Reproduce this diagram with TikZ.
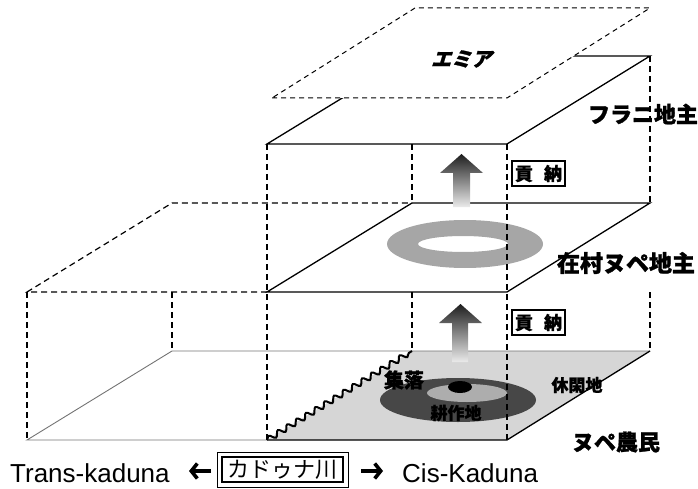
\documentclass[tikz,border=0pt]{standalone}
\usepackage{fontspec}
\setmainfont{Liberation Sans}
\newfontfamily\jp{Noto Sans CJK JP}[BoldFeatures={FakeBold=1.2}]
\newfontfamily\jpsl{Noto Sans CJK JP}[FakeSlant=0.3,BoldFeatures={FakeBold=1.2}]
\usetikzlibrary{decorations.pathmorphing,arrows.meta}
\begin{document}
\begin{tikzpicture}[x=1pt,y=-1pt,
  sline/.style={line width=1.3pt,line join=miter},
  dline/.style={line width=1.2pt,dash pattern=on 6pt off 4pt},
  fdline/.style={line width=1pt,dash pattern=on 5pt off 4pt},
  tline/.style={line width=0.9pt,black!55},
  wave/.style={decorate,decoration={snake,segment length=11pt,amplitude=2.8pt},line width=2pt},
  jlbl/.style={inner sep=0pt,font=\jp\bfseries\fontsize{22}{22}\selectfont},
  tribute/.style={draw,line width=1.6pt,inner sep=0pt,minimum width=53pt,minimum height=25pt,
    font=\jp\bfseries\fontsize{18}{18}\selectfont},
  uparrow/.style={top color=black!88,bottom color=black!8},
  glyph/.style={line width=3.6pt,-{Straight Barb[length=6pt,width=15pt]}},
  latin/.style={inner sep=0pt,font=\fontsize{26}{26}\selectfont}
]
\useasboundingbox (0,0) rectangle (698,489);

% ---- coordinates
\coordinate (A1) at (267,144); \coordinate (B1) at (507,144);
\coordinate (C1) at (650,56);  \coordinate (D1) at (411,56);
\coordinate (E1) at (272,98);  \coordinate (E2) at (507,98);
\coordinate (E3) at (650,8);   \coordinate (E4) at (415,8);
\coordinate (A2) at (267,292); \coordinate (B2) at (507,292);
\coordinate (C2) at (650,203); \coordinate (D2) at (412,203);
\coordinate (L2a) at (27,292); \coordinate (L2b) at (172,203);
\coordinate (A3) at (267,440); \coordinate (B3) at (507,440);
\coordinate (C3) at (650,351); \coordinate (D3) at (412,351);
\coordinate (L3a) at (27,440); \coordinate (L3b) at (172,351);

% ---- level 1 (Fulani) and Emir plane
\draw[sline] (A1)--(B1)--(C1)--(D1)--cycle;
\filldraw[fill=white,fdline] (E1)--(E2)--(E3)--(E4)--cycle;

% ---- level 2
\draw[dline] (A2)--(L2a)--(L2b)--(D2);
\draw[sline] (A2)--(B2)--(C2)--(D2)--cycle;
\fill[black!35,even odd rule] (465,244) ellipse [x radius=78pt,y radius=24pt]
  (463,244) ellipse [x radius=45pt,y radius=8pt];

% ---- level 3
\fill[black!16] (A3)--(D3)--(C3)--(B3)--cycle;
\fill[black!72] (458,400) ellipse [x radius=78pt,y radius=22pt];
\fill[black!32] (467,393) ellipse [x radius=40pt,y radius=9pt];
\fill[black] (460,387) ellipse [x radius=12pt,y radius=6pt];
\draw[tline] (A3)--(L3a)--(L3b)--(D3)--(C3);
\draw[sline] (C3)--(B3)--(A3);
\draw[wave] (A3)--(D3);

% ---- vertical dashed lines
\coordinate (v412t) at (412,144); \coordinate (v412m) at (412,203);
\coordinate (v650t) at (650,203);
\coordinate (v172b) at (172,292); \coordinate (v412b) at (412,292);
\coordinate (v650b) at (650,292);
\draw[dline] (A1)--(A3);
\draw[dline] (B1)--(B3);
\draw[dline] (v412t)--(v412m);
\draw[dline] (C1)--(v650t);
\draw[dline] (L2a)--(L3a);
\draw[dline] (v172b)--(L3b);
\draw[dline] (v412b)--(D3);
\draw[dline] (v650b)--(C3);

% ---- tribute arrows
\shade[uparrow] (453,207)--(453,173)--(440,173)--(461.5,154)--(483,173)--(470,173)--(470,207)--cycle;
\shade[uparrow] (452,362)--(452,323)--(439,323)--(460.5,304)--(482,323)--(468,323)--(468,362)--cycle;

% ---- labels
\node[jlbl,font=\jpsl\bfseries\fontsize{20}{20}\selectfont] (emir) at (461,59) {エミア};
\node[jlbl] (fulani) at (643,114) {フラニ地主};
\node[jlbl,font=\jp\bfseries\fontsize{23}{23}\selectfont] (village) at (626,263) {在村ヌペ地主};
\node[jlbl] (peasant) at (616,442) {ヌペ農民};
\node[tribute] (trib1) at (538.5,173.5) {貢\hspace{11pt}納};
\node[tribute] (trib2) at (538.5,322.5) {貢\hspace{11pt}納};
\node[jlbl,font=\jp\bfseries\fontsize{20}{20}\selectfont] (settle) at (404,380) {集落};
\node[jlbl,font=\jp\bfseries\fontsize{17}{17}\selectfont] (farm) at (456,413) {耕作地};
\node[jlbl,font=\jp\bfseries\fontsize{17}{17}\selectfont] (fallow) at (577,385) {休閑地};

% ---- bottom row
\node[latin,anchor=base west] (trans) at (10,482) {Trans-kaduna};
\node[latin,anchor=base west] (cis) at (402,482) {Cis-Kaduna};
\node[draw,line width=0.7pt,minimum width=131pt,minimum height=35pt] (riverframe) at (282.5,469.5) {};
\node[draw,line width=1.3pt,minimum width=121pt,minimum height=25pt,inner sep=0pt,
  font=\jp\fontsize{22}{22}\selectfont] (river) at (282.5,469.5) {カドゥナ川};
\coordinate (la1) at (211,471); \coordinate (la2) at (189,471);
\coordinate (ra1) at (361,471); \coordinate (ra2) at (383,471);
\draw[glyph] (la1)--(la2);
\draw[glyph] (ra1)--(ra2);
\end{tikzpicture}
\end{document}
